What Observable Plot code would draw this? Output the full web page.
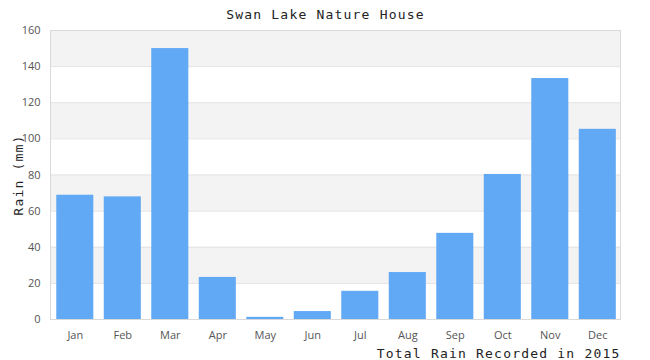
<!DOCTYPE html>
<html>
<head>
<meta charset="utf-8">
<script src="https://cdn.jsdelivr.net/npm/d3@7"></script>
<script src="https://cdn.jsdelivr.net/npm/@observablehq/plot@0.6"></script>
<style>
  html, body { margin: 0; padding: 0; background: #fff; }
  .mono { letter-spacing: 1.2px; }
</style>
</head>
<body>
<div id="chart"></div>
<script>
const title = "Swan Lake Nature House";
const yLabel = "Rain (mm)";
const caption = "Total Rain Recorded in 2015";
const months = ["Jan", "Feb", "Mar", "Apr", "May", "Jun", "Jul", "Aug", "Sep", "Oct", "Nov", "Dec"];
const rain = [68.8, 67.9, 150, 23.3, 1.2, 4.4, 15.6, 26, 47.7, 80.3, 133.4, 105.3];
const yTicks = [0, 20, 40, 60, 80, 100, 120, 140, 160];

const data = months.map((m, i) => ({month: m, rain: rain[i]}));
const bands = yTicks.slice(0, -1)
  .map((v, i) => ({y1: v, y2: yTicks[i + 1], shade: i % 2 === 1}))
  .filter(d => d.shade);

const mono = "'DejaVu Sans Mono', monospace";

const chart = Plot.plot({
  width: 650,
  height: 360,
  marginTop: 30,
  marginBottom: 41,
  marginLeft: 50,
  marginRight: 30,
  style: {fontFamily: "'Open Sans', sans-serif", fontSize: "11px", color: "#555", background: "#fff"},
  x: {domain: months, paddingInner: 0.22, paddingOuter: 0.11, align: 0.6, round: false, label: null},
  y: {domain: [0, 160], label: null},
  marks: [
    Plot.rect(bands, {y1: "y1", y2: "y2", fill: "#f3f3f3"}),
    Plot.ruleY(yTicks, {stroke: "#e3e3e3"}),
    Plot.barY(data, {x: "month", y: "rain", fill: "#62a9f5"}),
    Plot.frame({stroke: "#d9d9d9"}),
    Plot.axisX({tickSize: 0, tickPadding: 12, fill: "#555", fontSize: 11}),
    Plot.axisY(yTicks, {tickSize: 0, tickPadding: 10, fill: "#555", fontSize: 11}),
    Plot.text([title], {frameAnchor: "top", lineAnchor: "middle", dy: -16, dx: -10, fontFamily: mono, fontSize: 13, fill: "#222", className: "mono"}),
    Plot.text([yLabel], {frameAnchor: "left", textAnchor: "middle", lineAnchor: "middle", dx: -32, rotate: -90, fontFamily: mono, fontSize: 13, fill: "#222", className: "mono"}),
    Plot.text([caption], {frameAnchor: "bottom-right", textAnchor: "end", lineAnchor: "middle", dy: 34, fontFamily: mono, fontSize: 13, fill: "#222", className: "mono"})
  ]
});
document.getElementById("chart").append(chart);
</script>
</body>
</html>
